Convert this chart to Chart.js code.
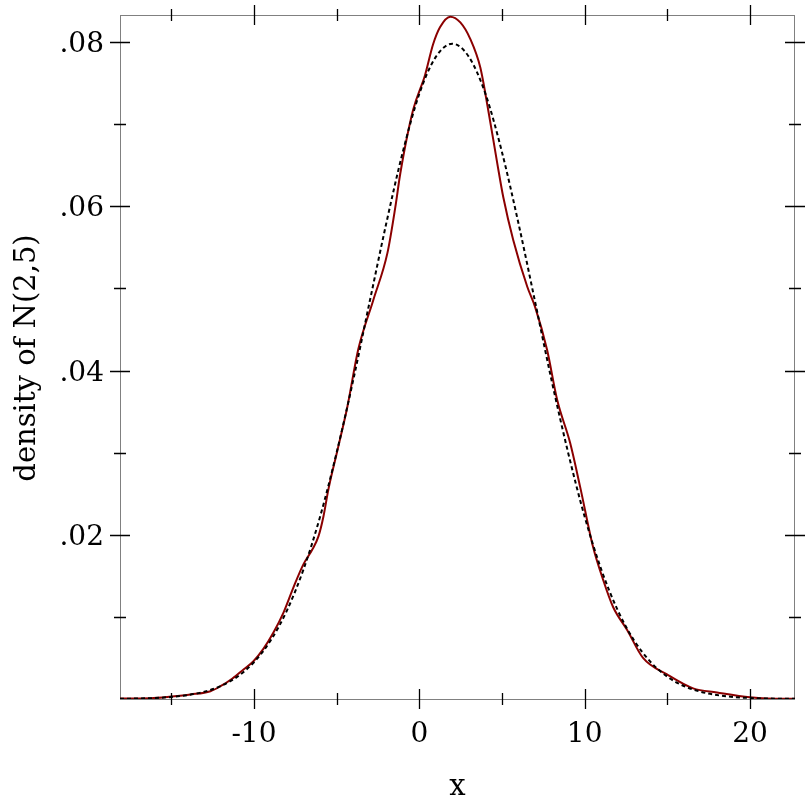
<!DOCTYPE html>
<html>
<head>
<meta charset="utf-8">
<script src="https://cdn.jsdelivr.net/npm/chart.js@4/dist/chart.umd.min.js"></script>
<style>
  body { margin: 0; background: #fff; }
  #wrap { width: 812px; height: 812px; }
</style>
</head>
<body>
<div id="wrap"><canvas id="myChart" width="812" height="812"></canvas></div>
<script>
// sample density (red)
var sampleX = [-18.1, -16.25, -15.0, -13.84, -12.63, -12.02, -11.3, -10.63, -10.03, -9.43, -8.82, -8.22, -7.61, -7.01, -6.47, -6.1, -5.8, -5.5, -4.95, -4.35, -3.69, -2.78, -1.93, -1.45, -1.15, -0.38, 0.35, 0.83, 1.25, 1.87, 2.48, 3.08, 3.69, 4.17, 4.71, 5.08, 5.68, 6.53, 7.01, 7.73, 8.34, 9.12, 9.73, 10.51, 11.12, 11.72, 12.57, 13.53, 14.98, 16.56, 18.0, 20.0, 21.0, 22.72];
var sampleY = [0.00006, 0.0001, 0.0003, 0.00055, 0.00095, 0.00156, 0.0025, 0.0036, 0.0046, 0.0061, 0.0081, 0.0105, 0.0136, 0.0164, 0.0182, 0.0198, 0.0222, 0.0255, 0.0303, 0.0356, 0.0426, 0.0486, 0.0543, 0.0599, 0.064, 0.0717, 0.076, 0.0797, 0.0818, 0.0831, 0.0824, 0.0804, 0.0769, 0.0717, 0.0653, 0.0611, 0.0559, 0.0502, 0.0477, 0.0425, 0.0364, 0.0312, 0.0258, 0.0185, 0.0145, 0.0112, 0.0084, 0.005, 0.003, 0.0013, 0.0008, 0.0002, 0.00006, 0.00003];

// true density N(2,5) (dotted)
var trueX = [-18.1, -17, -16, -15, -14, -13, -12, -11, -10, -9, -8, -7, -6, -5, -4, -3, -2, -1, 0, 1, 2, 3, 4, 5, 6, 7, 8, 9, 10, 11, 12, 13, 14, 15, 16, 17, 18, 19, 20, 21, 22, 22.72];
var trueY = [0.00003, 0.00006, 0.00012, 0.00025, 0.00048, 0.00089, 0.00158, 0.00272, 0.00448, 0.0071, 0.0108, 0.0158, 0.0222, 0.03, 0.0388, 0.0484, 0.0579, 0.0666, 0.0737, 0.0782, 0.0798, 0.0782, 0.0737, 0.0666, 0.0579, 0.0484, 0.0388, 0.03, 0.0222, 0.0158, 0.0108, 0.0071, 0.00448, 0.00272, 0.00158, 0.00089, 0.00048, 0.00025, 0.00012, 0.00006, 0.00003, 0.00002];

// ticks
var xTicks = [-10, 0, 10, 20];
var xTickLabels = ["-10", "0", "10", "20"];
var xMinor = [-15, -5, 5, 15];
var yTicks = [0.02, 0.04, 0.06, 0.08];
var yTickLabels = [".02", ".04", ".06", ".08"];
var yMinor = [0.01, 0.03, 0.05, 0.07];

var xTitle = "x";
var yTitle = "density of N(2,5)";

function toPoints(xs, ys) {
    var pts = [];
    for (var i = 0; i < xs.length; i++) pts.push({x: xs[i], y: ys[i]});
    return pts;
}

var FONT = "28px 'DejaVu Serif'";

// border under the lines
var framePlugin = {
    id: "frame",
    beforeDatasetsDraw: function(chart) {
        var ctx = chart.ctx, a = chart.chartArea;
        ctx.save();
        ctx.strokeStyle = "#808080";
        ctx.lineWidth = 1;
        ctx.strokeRect(a.left + 0.5, a.top + 0.5, a.right - a.left - 1, a.bottom - a.top);
        ctx.restore();
    },
    // ticks, labels, titles on top
    afterDraw: function(chart) {
        var ctx = chart.ctx, a = chart.chartArea;
        var xs = chart.scales.x, ys = chart.scales.y;
        ctx.save();
        ctx.strokeStyle = "#000";
        ctx.lineWidth = 1.3;
        ctx.beginPath();
        function hTick(y, len) {
            ctx.moveTo(a.left - len, y); ctx.lineTo(a.left + len, y);
            ctx.moveTo(a.right - len, y); ctx.lineTo(a.right + len, y);
        }
        function vTick(x, len) {
            ctx.moveTo(x, a.top - len); ctx.lineTo(x, a.top + len);
            ctx.moveTo(x, a.bottom - len); ctx.lineTo(x, a.bottom + len);
        }
        for (var i = 0; i < xTicks.length; i++) vTick(Math.round(xs.getPixelForValue(xTicks[i])) + 0.5, 10);
        for (var i = 0; i < xMinor.length; i++) vTick(Math.round(xs.getPixelForValue(xMinor[i])) + 0.5, 6);
        for (var i = 0; i < yTicks.length; i++) hTick(Math.round(ys.getPixelForValue(yTicks[i])) + 0.5, 10);
        for (var i = 0; i < yMinor.length; i++) hTick(Math.round(ys.getPixelForValue(yMinor[i])) + 0.5, 6);
        ctx.stroke();

        ctx.fillStyle = "#000";
        ctx.font = FONT;
        ctx.textBaseline = "alphabetic";
        ctx.textAlign = "center";
        for (var i = 0; i < xTicks.length; i++) {
            ctx.fillText(xTickLabels[i], xs.getPixelForValue(xTicks[i]), 742);
        }
        ctx.textAlign = "right";
        for (var i = 0; i < yTicks.length; i++) {
            ctx.fillText(yTickLabels[i], a.left - 16, ys.getPixelForValue(yTicks[i]) + 10);
        }
        ctx.textAlign = "center";
        ctx.font = "29px 'DejaVu Serif'";
        ctx.fillText(xTitle, (a.left + a.right) / 2, 795);
        ctx.translate(35, 358);
        ctx.rotate(-Math.PI / 2);
        ctx.fillText(yTitle, 0, 0);
        ctx.restore();
    }
};

var ctx = document.getElementById("myChart");

var myChart = new Chart(ctx, {
    type: "scatter",
    data: {
        datasets: [
            {
                label: "true",
                data: toPoints(trueX, trueY),
                showLine: true,
                borderColor: "#000",
                borderWidth: 2,
                borderDash: [4, 3],
                pointRadius: 0,
                cubicInterpolationMode: "monotone",
                fill: false
            },
            {
                label: "sample",
                data: toPoints(sampleX, sampleY),
                showLine: true,
                borderColor: "#8b0000",
                borderWidth: 2,
                pointRadius: 0,
                cubicInterpolationMode: "monotone",
                fill: false
            }
        ]
    },
    options: {
        responsive: false,
        animation: false,
        events: [],
        layout: { padding: { left: 120, top: 15, right: 17, bottom: 113 } },
        plugins: { legend: { display: false }, tooltip: { enabled: false } },
        scales: {
            x: { type: "linear", min: -18.1, max: 22.72, display: false },
            y: { type: "linear", min: 0, max: 0.0833, display: false }
        }
    },
    plugins: [framePlugin]
});
</script>
</body>
</html>
